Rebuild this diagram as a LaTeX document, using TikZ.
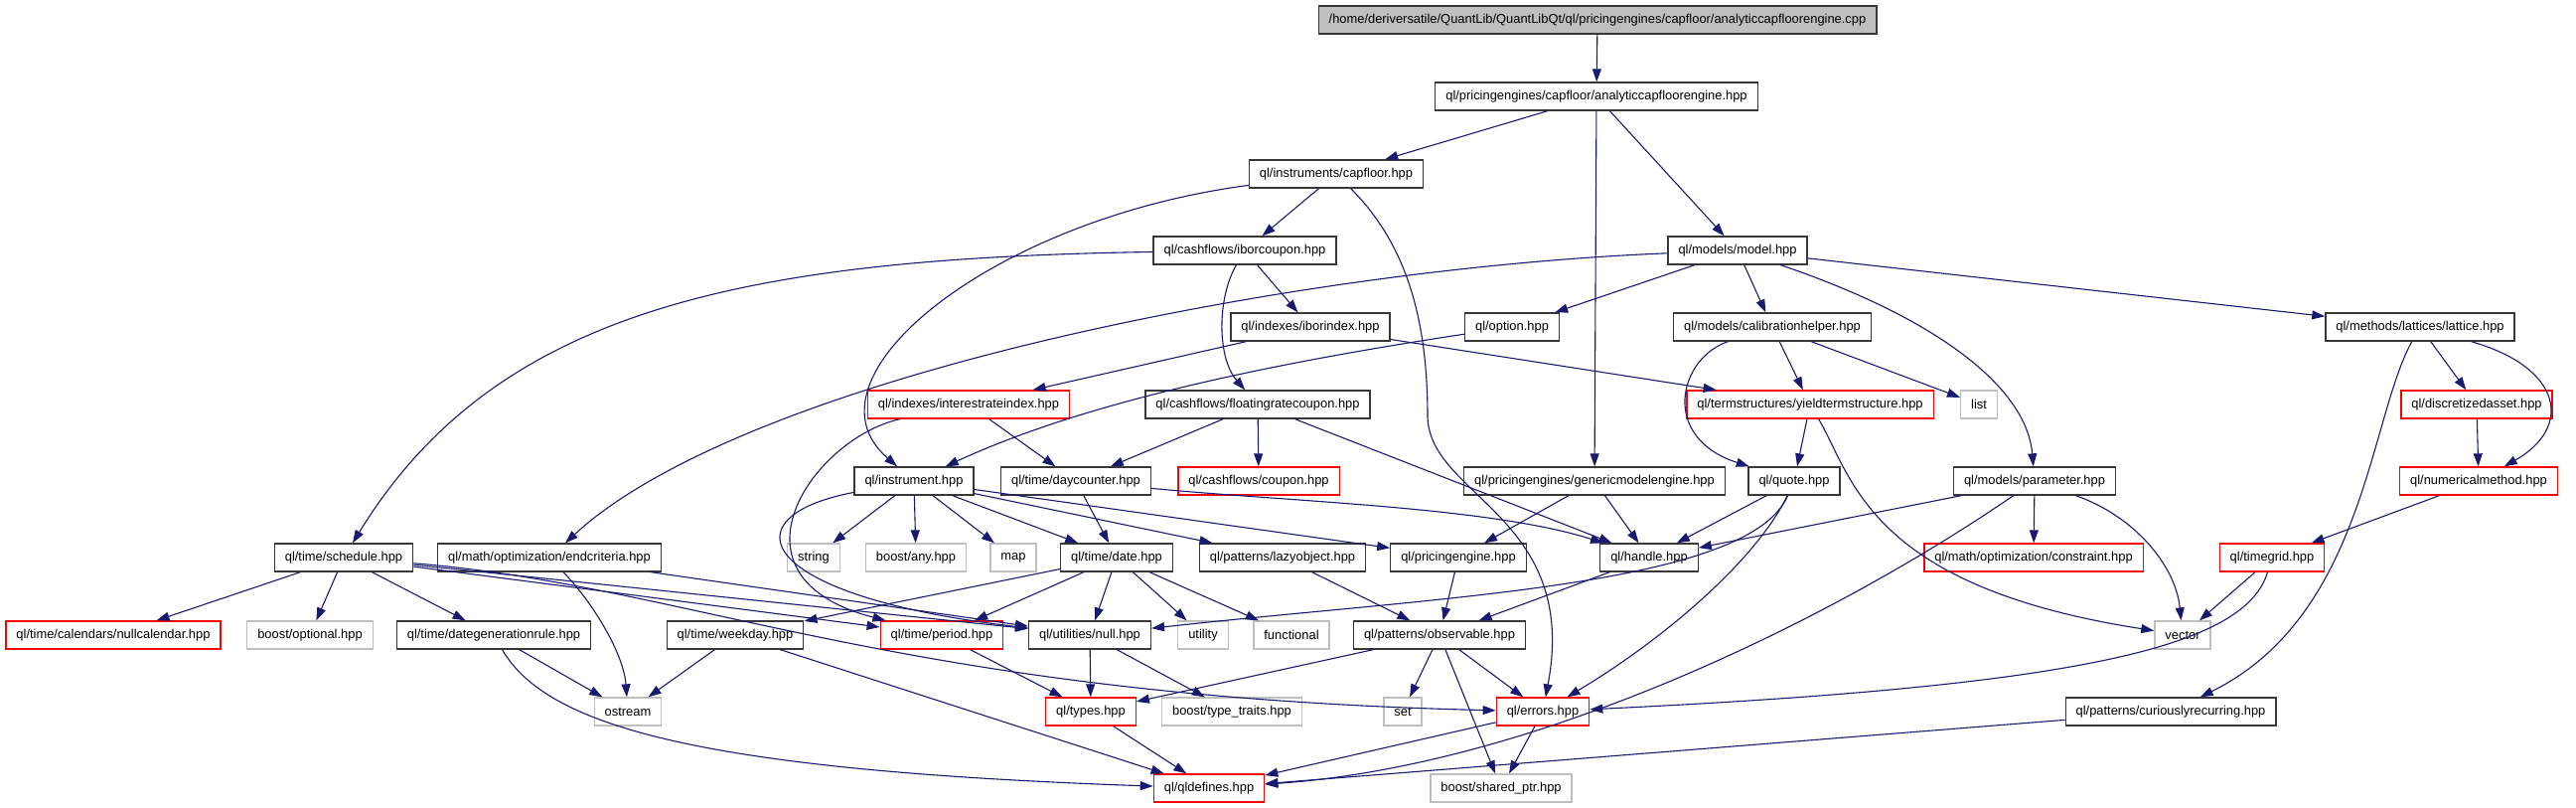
\documentclass[tikz,border=0pt]{standalone}
\usepackage{fontspec}
\setmainfont{Liberation Sans}
\usepackage{tikz}
\usetikzlibrary{arrows.meta}
\definecolor{linkblue}{RGB}{25,25,112}
\definecolor{boxgray}{RGB}{191,191,191}
\definecolor{boxred}{RGB}{255,0,0}

\begin{document}
\begin{tikzpicture}[
    x=1pt, y=-1pt,
    normal/.style={draw=black!78, fill=white, rectangle, line width=1.3pt, align=center, minimum height=28pt, inner xsep=10.5pt, inner ysep=0pt, font=\fontsize{12.9}{14}\selectfont},
    mainfile/.style={normal, fill=boxgray},
    missing/.style={normal, draw=boxred},
    system/.style={normal, draw=boxgray},
    link/.style={draw=linkblue, line width=\edgewidth, -{Triangle[length=13pt, width=9pt]}}
  ]
    \def\edgewidth{1.1pt}
  \useasboundingbox (0,0) rectangle (2593,813);
  \node[mainfile] (Main) at (1608, 20) {/home/deriversatile/QuantLib/QuantLibQt/ql/pricingengines/capfloor/analyticcapfloorengine.cpp};
  \node[normal] (Engine) at (1607, 97) {ql/pricingengines/capfloor/analyticcapfloorengine.hpp};
  \node[normal] (CapFloor) at (1345, 175) {ql/instruments/capfloor.hpp};
  \node[normal] (IborCoupon) at (1253, 252) {ql/cashflows/iborcoupon.hpp};
  \node[normal] (Model) at (1749, 252) {ql/models/model.hpp};
  \node[normal] (IborIndex) at (1319, 329) {ql/indexes/iborindex.hpp};
  \node[normal] (Option) at (1522, 329) {ql/option.hpp};
  \node[normal] (CalibHelper) at (1784, 329) {ql/models/calibrationhelper.hpp};
  \node[normal] (Lattice) at (2436, 329) {ql/methods/lattices/lattice.hpp};

  \node[missing] (RateIndex) at (975, 407) {ql/indexes/interestrateindex.hpp};
  \node[normal] (FloatCoupon) at (1266, 407) {ql/cashflows/floatingratecoupon.hpp};
  \node[missing] (YieldTS) at (1822, 407) {ql/termstructures/yieldtermstructure.hpp};
  \node[system] (List) at (1992, 407) {list};
  \node[missing] (DiscAsset) at (2493, 407) {ql/discretizedasset.hpp};

  \node[normal] (Instrument) at (920, 484) {ql/instrument.hpp};
  \node[normal] (DayCounter) at (1083, 484) {ql/time/daycounter.hpp};
  \node[missing] (Coupon) at (1267, 484) {ql/cashflows/coupon.hpp};
  \node[normal] (GenEngine) at (1605, 484) {ql/pricingengines/genericmodelengine.hpp};
  \node[normal] (Quote) at (1806, 484) {ql/quote.hpp};
  \node[normal] (Parameter) at (2048, 484) {ql/models/parameter.hpp};
  \node[missing] (NumMethod) at (2495, 484) {ql/numericalmethod.hpp};

  \node[normal] (Schedule) at (346, 561) {ql/time/schedule.hpp};
  \node[normal] (EndCriteria) at (553, 561) {ql/math/optimization/endcriteria.hpp};
  \node[system] (String) at (819, 561) {string};
  \node[system] (Any) at (922, 561) {boost/any.hpp};
  \node[system] (Map) at (1020, 561) {map};
  \node[normal] (Date) at (1124, 561) {ql/time/date.hpp};
  \node[normal] (LazyObject) at (1291, 561) {ql/patterns/lazyobject.hpp};
  \node[normal] (PricingEngine) at (1468, 561) {ql/pricingengine.hpp};
  \node[normal] (Handle) at (1660, 561) {ql/handle.hpp};
  \node[missing] (Constraint) at (2047, 561) {ql/math/optimization/constraint.hpp};
  \node[missing] (TimeGrid) at (2287, 561) {ql/timegrid.hpp};

  \node[missing] (NullCal) at (114, 639) {ql/time/calendars/nullcalendar.hpp};
  \node[system] (Optional) at (312, 639) {boost/optional.hpp};
  \node[normal] (DateGenRule) at (497, 639) {ql/time/dategenerationrule.hpp};
  \node[normal] (Weekday) at (740, 639) {ql/time/weekday.hpp};
  \node[missing] (Period) at (948, 639) {ql/time/period.hpp};
  \node[normal] (Null) at (1097, 639) {ql/utilities/null.hpp};
  \node[system] (Utility) at (1211, 639) {utility};
  \node[system] (Functional) at (1300, 639) {functional};
  \node[normal] (Observable) at (1449, 639) {ql/patterns/observable.hpp};
  \node[system] (Vector) at (2197, 639) {vector};

  \node[system] (Ostream) at (632, 716) {ostream};
  \node[missing] (Types) at (1098, 716) {ql/types.hpp};
  \node[system] (TypeTraits) at (1240, 716) {boost/type\_traits.hpp};
  \node[system] (Set) at (1412, 716) {set};
  \node[missing] (Errors) at (1553, 716) {ql/errors.hpp};
  \node[normal] (CurRec) at (2185, 716) {ql/patterns/curiouslyrecurring.hpp};

  \node[missing] (QlDefines) at (1217, 793) {ql/qldefines.hpp};
  \node[system] (SharedPtr) at (1511, 793) {boost/shared\_ptr.hpp};

  \draw[link] (Main) -- (Engine);
  \draw[link] (Engine) -- (CapFloor);
  \draw[link] (Engine) -- (Model);
  \draw[link] (Engine) -- (GenEngine);
  \draw[link] (CapFloor) -- (IborCoupon);
  \draw[link] (CapFloor) .. controls (1000,220) and (800,380) .. (Instrument);
  \draw[link] (CapFloor) .. controls (1420,250) and (1437,330) .. (1437,420) .. controls (1440,500) and (1590,520) .. (Errors);
  \draw[link] (IborCoupon) .. controls (750,260) and (500,310) .. (Schedule);
  \draw[link] (IborCoupon) -- (IborIndex);
  \draw[link] (IborCoupon) .. controls (1225,300) and (1225,360) .. (FloatCoupon);
  \draw[link] (Model) -- (Option);
  \draw[link] (Model) .. controls (1300,270) and (750,380) .. (EndCriteria);
  \draw[link] (Model) -- (CalibHelper);
  \draw[link] (Model) .. controls (1950,320) and (2040,390) .. (Parameter);
  \draw[link] (Model) -- (Lattice);
  \draw[link] (IborIndex) -- (RateIndex);
  \draw[link] (IborIndex) -- (YieldTS);
  \draw[link] (Option) .. controls (1250,370) and (1080,410) .. (Instrument);
  \draw[link] (CalibHelper) -- (YieldTS);
  \draw[link] (CalibHelper) -- (List);
  \draw[link] (CalibHelper) .. controls (1690,360) and (1670,440) .. (Quote);
  \draw[link] (Lattice) -- (DiscAsset);
  \draw[link] (Lattice) .. controls (2580,370) and (2590,430) .. (NumMethod);
  \draw[link] (Lattice) .. controls (2385,420) and (2380,620) .. (CurRec);
  \draw[link] (RateIndex) -- (DayCounter);
  \draw[link] (RateIndex) .. controls (820,440) and (720,580) .. (Period);
  \draw[link] (FloatCoupon) -- (DayCounter);
  \draw[link] (FloatCoupon) -- (Coupon);
  \draw[link] (FloatCoupon) -- (Handle);
  \draw[link] (YieldTS) -- (Quote);
  \draw[link] (YieldTS) .. controls (1865,480) and (1880,590) .. (Vector);
  \draw[link] (DiscAsset) -- (NumMethod);
  \draw[link] (Instrument) -- (String);
  \draw[link] (Instrument) -- (Any);
  \draw[link] (Instrument) -- (Map);
  \draw[link] (Instrument) -- (Date);
  \draw[link] (Instrument) -- (LazyObject);
  \draw[link] (Instrument) -- (PricingEngine);
  \draw[link] (Instrument) .. controls (730,520) and (760,600) .. (Null);
  \draw[link] (DayCounter) -- (Date);
  \draw[link] (DayCounter) .. controls (1300,505) and (1500,510) .. (Handle);
  \draw[link] (GenEngine) -- (PricingEngine);
  \draw[link] (GenEngine) -- (Handle);
  \draw[link] (Quote) -- (Handle);
  \draw[link] (Quote) .. controls (1760,590) and (1450,600) .. (Null);
  \draw[link] (Quote) .. controls (1770,560) and (1680,640) .. (Errors);
  \draw[link] (Parameter) -- (Handle);
  \draw[link] (Parameter) -- (Constraint);
  \draw[link] (Parameter) .. controls (2150,520) and (2190,570) .. (Vector);
  \draw[link] (Parameter) .. controls (1850,620) and (1550,770) .. (QlDefines);
  \draw[link] (NumMethod) -- (TimeGrid);
  \draw[link] (Schedule) -- (NullCal);
  \draw[link] (Schedule) -- (Optional);
  \draw[link] (Schedule) -- (DateGenRule);
  \draw[link] (Schedule) -- (Period);
  \draw[link] (Schedule) -- (Null);
  \draw[link] (Schedule) .. controls (700,590) and (900,700) .. (Errors);
  \draw[link] (EndCriteria) .. controls (600,610) and (628,660) .. (Ostream);
  \draw[link] (EndCriteria) -- (Null);
  \draw[link] (Date) -- (Weekday);
  \draw[link] (Date) -- (Period);
  \draw[link] (Date) -- (Null);
  \draw[link] (Date) -- (Utility);
  \draw[link] (Date) -- (Functional);
  \draw[link] (LazyObject) -- (Observable);
  \draw[link] (PricingEngine) -- (Observable);
  \draw[link] (Handle) -- (Observable);
  \draw[link] (TimeGrid) -- (Vector);
  \draw[link] (TimeGrid) .. controls (2260,650) and (2100,690) .. (Errors);
  \draw[link] (DateGenRule) -- (Ostream);
  \draw[link] (DateGenRule) .. controls (550,730) and (700,775) .. (QlDefines);
  \draw[link] (Weekday) -- (Ostream);
  \draw[link] (Weekday) -- (QlDefines);
  \draw[link] (Period) -- (Types);
  \draw[link] (Null) -- (Types);
  \draw[link] (Null) -- (TypeTraits);
  \draw[link] (Observable) -- (Types);
  \draw[link] (Observable) -- (Set);
  \draw[link] (Observable) -- (Errors);
  \draw[link] (Observable) -- (SharedPtr);
  \draw[link] (Types) -- (QlDefines);
  \draw[link] (Errors) -- (QlDefines);
  \draw[link] (Errors) -- (SharedPtr);
  \draw[link] (CurRec) -- (QlDefines);
  \end{tikzpicture}
\end{document}
